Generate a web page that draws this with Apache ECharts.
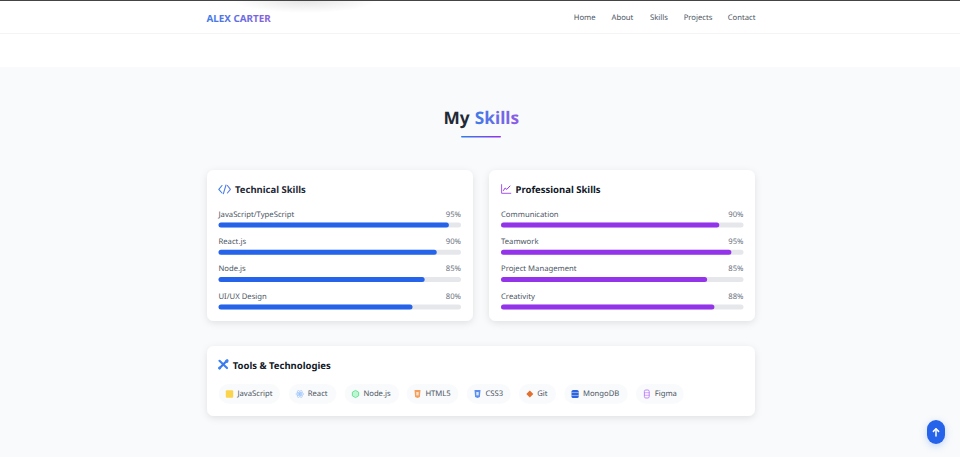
<!DOCTYPE html>
<html>
<head>
<meta charset="utf-8">
<script src="https://cdn.jsdelivr.net/npm/echarts@6/dist/echarts.min.js"></script>
<style>
html,body{margin:0;padding:0;background:#fff}
#c{width:960px;height:457px}
#defs{position:absolute;width:0;height:0}
text{text-rendering:geometricPrecision}
text[fill="#6a6ce1"]{fill:url(#logoGrad)}
text[fill="#6a6ce2"]{fill:url(#titleGrad)}
</style>
</head>
<body>
<svg id="defs" aria-hidden="true"><defs>
<linearGradient id="logoGrad" x1="0" y1="0" x2="1" y2="0"><stop offset="0" stop-color="#3f7be8"/><stop offset="1" stop-color="#8a5fdc"/></linearGradient>
<linearGradient id="titleGrad" x1="0" y1="0" x2="1" y2="0"><stop offset="0" stop-color="#3f7be8"/><stop offset="1" stop-color="#8f5ce6"/></linearGradient>
</defs></svg>
<div id="c"></div>
<script>
const techSkills = ['JavaScript/TypeScript', 'React.js', 'Node.js', 'UI/UX Design'];
const techValues = [95, 90, 85, 80];
const proSkills = ['Communication', 'Teamwork', 'Project Management', 'Creativity'];
const proValues = [90, 95, 85, 88];
const navItems = ['Home', 'About', 'Skills', 'Projects', 'Contact'];
const toolNames = ['JavaScript', 'React', 'Node.js', 'HTML5', 'CSS3', 'Git', 'MongoDB', 'Figma'];

const navX = [573.7, 611.5, 650, 683.7, 727.7];
const pillBox = [[218.7, 280], [289, 336.3], [344.7, 399], [406.7, 458.3], [466.7, 510.7], [519, 556], [564.3, 627.7], [636, 683.7]];

const FONT = '"Noto Sans", sans-serif';
const BODY = 7.7;
const HEAD = 9.5;
const chart = echarts.init(document.getElementById('c'), null, { renderer: 'svg' });
const LG = echarts.graphic.LinearGradient;
const g = [];
const rect = (x, y, w, h, fill, r, extra) => g.push(Object.assign({ type: 'rect', shape: { x, y, width: w, height: h, r: r || 0 }, style: { fill } }, extra || {}));
const text = (x, y, t, size, fill, weight, align) => g.push({
  type: 'text', x, y,
  style: { text: t, fill, font: (weight || 400) + ' ' + size + 'px ' + FONT, textAlign: align || 'left', textVerticalAlign: 'middle' }
});
const stroke = (pts, color, w) => g.push({ type: 'polyline', shape: { points: pts }, style: { stroke: color, lineWidth: w, fill: 'none', lineCap: 'round', lineJoin: 'round' } });
const poly = (pts, fill) => g.push({ type: 'polygon', shape: { points: pts }, style: { fill } });
const circle = (cx, cy, r, style) => g.push({ type: 'circle', shape: { cx, cy, r }, style });

// page chrome
rect(0, 0, 960, 457, '#ffffff');
rect(0, 67, 960, 390, '#f9fafb');
g.push({ type: 'ellipse', shape: { cx: 305, cy: 0, rx: 72, ry: 13 }, style: { fill: new echarts.graphic.RadialGradient(0.5, 0.5, 0.5, [{ offset: 0, color: 'rgba(120,120,120,0.2)' }, { offset: 1, color: 'rgba(120,120,120,0)' }]) } });
rect(0, 0, 960, 1, '#444444');
rect(0, 33, 960, 1, '#f3f4f6');
text(206.5, 17.6, 'ALEX CARTER', 9.85, '#6a6ce1', 700);
navItems.forEach((n, i) => text(navX[i], 17.7, n, BODY, '#4b5563'));

// heading
text(443.5, 118.8, 'My', 17.3, '#1f2937', 700);
text(474.8, 118.8, 'Skills', 17.3, '#6a6ce2', 700);
rect(461, 136, 40, 1.6, new LG(0, 0, 1, 0, [{ offset: 0, color: '#2f7fe8' }, { offset: 1, color: '#9333ea' }]), 0.8);

// cards
const shadow = { shadowBlur: 7, shadowColor: 'rgba(0,0,0,0.10)', shadowOffsetY: 2 };
[[207, 170, 266, 151], [489, 170, 266, 151], [207, 346, 548, 70]].forEach(c => {
  g.push({ type: 'rect', shape: { x: c[0], y: c[1], width: c[2], height: c[3], r: 7 }, style: Object.assign({ fill: '#ffffff' }, shadow) });
});
text(235, 189.3, 'Technical Skills', HEAD, '#1f2937', 700);
text(515.5, 189.3, 'Professional Skills', HEAD, '#111827', 700);
text(232.7, 365.1, 'Tools & Technologies', HEAD, '#111827', 700);

// code icon
stroke([[222, 185.5], [218.8, 189.3], [222, 193]], '#3f7fe6', 1.1);
stroke([[226, 185], [223.4, 193.6]], '#4f7fe6', 1.1);
stroke([[227.4, 185.5], [230.4, 189.3], [227.4, 193]], '#5f7be6', 1.1);
// chart icon
stroke([[501.6, 184.6], [501.6, 193.3], [510.8, 193.3]], '#a855f7', 1);
stroke([[503.4, 190.5], [505.2, 188], [506.8, 189.4], [510, 186]], '#9333ea', 1);
// tools icon
stroke([[219.5, 360.8], [227, 368]], '#3b82f6', 2.2);
stroke([[227.3, 360.3], [219.5, 368.3]], '#3b78e6', 2.2);
circle(226.8, 361.2, 1.7, { fill: '#3b82f6' });
circle(219.6, 368, 1.5, { fill: '#3b82f6' });

// tool pills
pillBox.forEach((b, i) => {
  rect(b[0], 384, b[1] - b[0], 19.7, '#f9fafb', 9.8);
  text(b[0] + 18.7 + (i === 5 ? -0.5 : 0), 394, toolNames[i], BODY, '#4b5563');
});
const ic = pillBox.map(b => b[0] + 10.8);
rect(ic[0] - 3.7, 390.3, 7.4, 7.4, '#fcd34d', 1);
[0, 1.05, 2.1].forEach(rot => g.push({ type: 'ellipse', x: ic[1], y: 394, rotation: rot, shape: { cx: 0, cy: 0, rx: 3.9, ry: 1.6 }, style: { fill: 'none', stroke: '#a5c8fb', lineWidth: 0.7 } }));
circle(ic[1], 394, 1.1, { fill: '#93c5fd' });
const hex = (cx, cy, r) => [[cx, cy - r], [cx + r * 0.87, cy - r / 2], [cx + r * 0.87, cy + r / 2], [cx, cy + r], [cx - r * 0.87, cy + r / 2], [cx - r * 0.87, cy - r / 2]];
g.push({ type: 'polygon', shape: { points: hex(ic[2], 394, 3.6) }, style: { fill: '#bbf7d0', stroke: '#4ade80', lineWidth: 0.8 } });
poly([[ic[3] - 3, 390], [ic[3] + 3, 390], [ic[3] + 2.4, 397], [ic[3], 398], [ic[3] - 2.4, 397]], '#f59e5b');
rect(ic[3] - 1.2, 392, 2.4, 3.4, '#fde3cc');
poly([[ic[4] - 3, 390], [ic[4] + 3, 390], [ic[4] + 2.4, 397], [ic[4], 398], [ic[4] - 2.4, 397]], '#5b8def');
rect(ic[4] - 1.2, 392, 2.4, 3.4, '#dbe7fd');
poly([[ic[5], 390.5], [ic[5] + 3.5, 394], [ic[5], 397.5], [ic[5] - 3.5, 394]], '#e0702f');
rect(ic[6] - 3.6, 390, 7.2, 8, '#2f62de', 1.6);
rect(ic[6] - 3.6, 392.5, 7.2, 0.5, '#dbeafe'); rect(ic[6] - 3.6, 395, 7.2, 0.5, '#dbeafe');
g.push({ type: 'rect', shape: { x: ic[7] - 2.4, y: 390, width: 4.8, height: 8, r: 1.4 }, style: { fill: 'none', stroke: '#c084fc', lineWidth: 1 } });
stroke([[ic[7] - 2.4, 392.7], [ic[7] + 2.4, 392.7]], '#c084fc', 0.7);
stroke([[ic[7] - 2.4, 395.3], [ic[7] + 2.4, 395.3]], '#c084fc', 0.7);

// back-to-top
g.push({ type: 'rect', shape: { x: 927, y: 420, width: 18, height: 24, r: 9 }, style: { fill: '#2563eb', shadowBlur: 7, shadowColor: 'rgba(37,99,235,0.25)', shadowOffsetY: 2 } });
stroke([[936, 436], [936, 429]], '#ffffff', 1.5);
stroke([[933.4, 431.4], [936, 428.8], [938.6, 431.4]], '#ffffff', 1.5);

const ROW = 27.3;
const grids = [
  { left: 218.5, top: 225 - ROW / 2, width: 242.5, height: ROW * 4 },
  { left: 501, top: 225 - ROW / 2, width: 242.5, height: ROW * 4 }
];
const labelBase = { inside: true, margin: 0, fontFamily: FONT, fontSize: BODY, verticalAlign: 'bottom', padding: [0, 0, 6.3, 0] };
const hidden = { axisLine: { show: false }, axisTick: { show: false }, splitLine: { show: false } };
const yAxis = (gridIndex, data, position, color) => Object.assign({
  type: 'category', gridIndex, data, position, inverse: true,
  axisLabel: Object.assign({ color, align: position === 'left' ? 'left' : 'right' }, labelBase)
}, hidden);
const barSeries = (idx, values, color) => ({
  type: 'bar', xAxisIndex: idx, yAxisIndex: idx * 2, data: values, barWidth: 5, silent: true,
  showBackground: true,
  backgroundStyle: { color: '#e5e7eb', borderRadius: 2.5 },
  itemStyle: { color, borderRadius: 2.5 }
});
const pct = v => v + '%';

chart.setOption({
  animation: false,
  backgroundColor: 'transparent',
  graphic: { elements: g },
  grid: grids,
  xAxis: [0, 1].map(i => Object.assign({ type: 'value', gridIndex: i, min: 0, max: 100, axisLabel: { show: false } }, hidden)),
  yAxis: [
    yAxis(0, techSkills, 'left', '#4b5563'),
    yAxis(0, techValues.map(pct), 'right', '#6b7280'),
    yAxis(1, proSkills, 'left', '#4b5563'),
    yAxis(1, proValues.map(pct), 'right', '#6b7280')
  ],
  series: [barSeries(0, techValues, '#2563eb'), barSeries(1, proValues, '#9333ea')]
});
</script>
</body>
</html>
